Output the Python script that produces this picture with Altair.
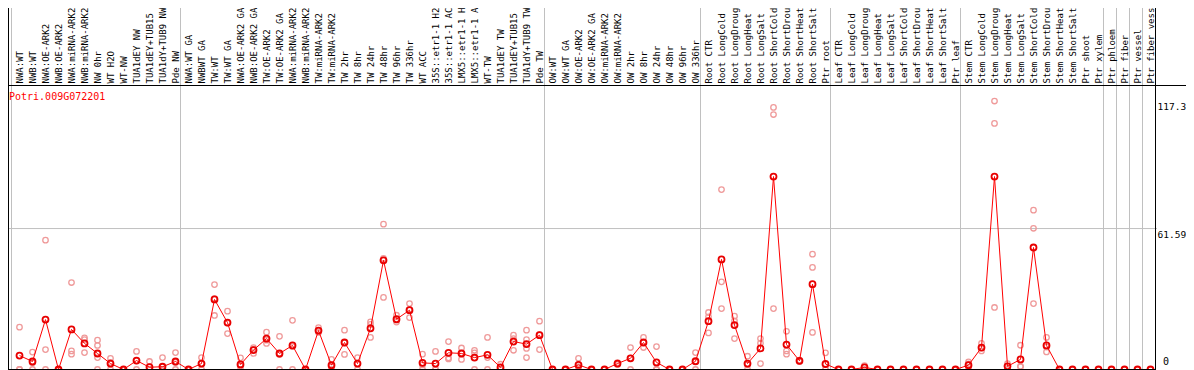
import altair as alt
import pandas as pd

TITLE = "Potri.009G072201"

CATEGORIES = [
    "NWA:WT", "NWB:WT", "NWA:OE-ARK2", "NWB:OE-ARK2", "NWA:miRNA-ARK2", "NWB:miRNA-ARK2",
    "NW 0hr", "WT H2O", "WT-NW", "TUA1dEY NW", "TUA1dEY+TUB15 NW", "TUA1dY+TUB9 NW", "Pde NW",
    "NWA:WT GA", "NWBWT GA", "TW:WT", "TW:WT GA", "NWA:OE-ARK2 GA", "NWB:OE-ARK2 GA",
    "TW:OE-ARK2", "TW:OE-ARK2 GA", "NWA:miRNA-ARK2", "NWB:miRNA-ARK2", "TW:miRNA-ARK2",
    "TW:miRNA-ARK2", "TW 2hr", "TW 8hr", "TW 24hr", "TW 48hr", "TW 96hr", "TW 336hr",
    "WT ACC", "35S::etr1-1 H2O", "35S::etr1-1 ACC", "LMX5::etr1-1 H2O", "LMX5::etr1-1 ACC",
    "WT-TW", "TUA1dEY TW", "TUA1dEY+TUB15 TW", "TUA1dY+TUB9 TW", "Pde TW",
    "OW:WT", "OW:WT GA", "OW:OE-ARK2", "OW:OE-ARK2 GA", "OW:miRNA-ARK2", "OW:miRNA-ARK2",
    "OW 2hr", "OW 8hr", "OW 24hr", "OW 48hr", "OW 96hr", "OW 336hr",
    "Root CTR", "Root LongCold", "Root LongDrought", "Root LongHeat", "Root LongSalt",
    "Root ShortCold", "Root ShortDrought", "Root ShortHeat", "Root ShortSalt", "Ptr root",
    "Leaf CTR", "Leaf LongCold", "Leaf LongDrought", "Leaf LongHeat", "Leaf LongSalt",
    "Leaf ShortCold", "Leaf ShortDrought", "Leaf ShortHeat", "Leaf ShortSalt", "Ptr leaf",
    "Stem CTR", "Stem LongCold", "Stem LongDrought", "Stem LongHeat", "Stem LongSalt",
    "Stem ShortCold", "Stem ShortDrought", "Stem ShortHeat", "Stem ShortSalt", "Ptr shoot",
    "Ptr xylem", "Ptr phloem", "Ptr fiber", "Ptr vessel", "Ptr fiber vessel",
]

MEANS = [
    6.1, 3.5, 21.8, 0.0, 17.5, 11.4, 7.0, 2.6, 0.0, 3.9, 1.0, 1.2, 3.5,
    0.0, 2.6, 30.6, 20.5, 2.2, 8.5, 13.5, 7.0, 10.5, 0.0, 17.0, 1.9, 11.8, 2.6,
    18.0, 47.7, 22.0, 25.9, 2.9, 2.6, 7.3, 7.0, 5.2, 6.4, 0.9, 12.2, 11.1, 15.0,
    0.0, 0.0, 2.0, 0.0, 0.0, 2.6, 4.9, 11.8, 3.1, 0.0, 0.0, 3.6,
    21.1, 48.1, 19.4, 2.6, 9.2, 84.3, 10.9, 3.8, 37.3, 2.4,
    0.0, 0.0, 0.9, 0.0, 0.0, 0.0, 0.0, 0.0, 0.0, 0.0,
    1.9, 9.6, 84.3, 1.4, 4.4, 53.3, 10.5, 0.0, 0.0, 0.0, 0.0,
    0.0, 0.0, 0.0, 0.0,
]

REP_A = [
    18.5, 7.6, 56.5, 0.0, 38.0, 13.8, 12.8, 4.9, 0.0, 7.9, 3.5, 5.2, 7.4,
    0.0, 5.2, 37.1, 25.5, 5.1, 9.6, 16.3, 14.5, 21.5, 0.0, 18.3, 4.4, 17.2, 5.2,
    20.8, 63.5, 23.7, 28.8, 6.7, 7.9, 12.2, 9.4, 8.4, 14.0, 2.3, 15.0, 17.2, 21.1,
    0.0, 0.0, 4.9, 0.0, 0.0, 3.0, 9.6, 14.0, 10.0, 0.0, 0.0, 7.4,
    24.9, 78.6, 23.3, 5.8, 13.5, 114.5, 16.7, 4.1, 50.4, 7.3,
    0.0, 0.0, 1.7, 0.0, 0.0, 0.0, 0.0, 0.0, 0.0, 0.0,
    3.3, 11.4, 117.3, 2.6, 10.6, 69.6, 14.0, 0.0, 0.0, 0.0, 0.0,
    0.0, 0.0, 0.0, 0.0,
]

REP_B = [
    0.0, 2.9, 8.7, 0.0, 8.1, 13.1, 10.5, 3.1, 0.0, 3.8, 0.0, 0.0, 3.1,
    0.0, 2.6, 31.0, 20.3, 1.5, 8.9, 12.8, 6.5, 10.0, 0.0, 16.5, 1.2, 11.6, 2.6,
    19.7, 48.5, 21.5, 26.2, 2.0, 0.0, 5.1, 7.2, 7.3, 5.2, 0.5, 13.5, 13.1, 15.2,
    0.0, 0.0, 1.2, 0.0, 0.0, 2.6, 5.0, 11.8, 0.0, 0.0, 0.0, 3.4,
    23.0, 38.3, 21.2, 2.0, 11.5, 111.4, 8.1, 3.8, 44.6, 0.0,
    0.0, 0.0, 1.0, 0.0, 0.0, 0.0, 0.0, 0.0, 0.0, 0.0,
    2.4, 9.4, 107.5, 1.5, 1.4, 61.7, 9.8, 0.0, 0.0, 0.0, 0.0,
    0.0, 0.0, 0.0, 0.0,
]

REP_C = [
    0.0, 0.0, 0.0, 0.0, 6.7, 7.4, 5.2, 0.0, 0.0, 0.0, 0.0, 0.0, 0.0,
    0.0, 0.0, 23.6, 15.7, 0.0, 7.0, 11.4, 0.0, 0.0, 0.0, 16.2, 0.0, 6.6, 0.0,
    14.0, 31.5, 20.7, 22.7, 0.0, 0.0, 4.6, 4.4, 0.0, 0.0, 0.0, 8.4, 9.2, 8.7,
    0.0, 0.0, 0.0, 0.0, 0.0, 2.2, 0.0, 9.6, 0.0, 0.0, 0.0, 0.0,
    16.0, 26.6, 13.5, 0.0, 2.6, 26.6, 6.7, 3.5, 16.2, 0.0,
    0.0, 0.0, 0.0, 0.0, 0.0, 0.0, 0.0, 0.0, 0.0, 0.0,
    0.0, 8.1, 27.1, 0.0, 1.2, 28.8, 7.7, 0.0, 0.0, 0.0, 0.0,
    0.0, 0.0, 0.0, 0.0,
]

# fourth replicate, only where one was seen (category number -> value)
REP_D = {7: 0.0, 40: 5.2}

# group boundaries: a grey line follows these category numbers
GROUP_ENDS = [0, 13, 41, 53, 63, 73, 84, 85, 86, 87]
Y_TICKS = [0, 61.59, 117.3]
Y_TICK_LABELS = ["0", "61.59", "117.3"]
Y_MAX = 124.3

FONT = "DejaVu Sans Mono"
W, H, RIGHT = 1148, 362, 30
HEADER = 77
STEP = 13.0
FIRST = 11.5
X_MIN = 1 - FIRST / STEP
X_MAX = X_MIN + W / STEP
GAP = 5 / STEP

idx = list(range(1, len(CATEGORIES) + 1))
mean_df = pd.DataFrame({"idx": idx, "category": CATEGORIES, "mean": MEANS})

rows = []
for rep in (REP_A, REP_B, REP_C):
    for i, v in zip(idx, rep):
        rows.append({"idx": i, "value": v})
for i, v in REP_D.items():
    rows.append({"idx": i, "value": v})
rep_df = pd.DataFrame(rows)

grid_df = pd.DataFrame({"pos": [g + GAP for g in GROUP_ENDS]})
border_df = pd.DataFrame({"pos": [len(CATEGORIES) + GAP]})
tick_df = pd.DataFrame({"v": Y_TICKS, "label": Y_TICK_LABELS})

xs = alt.Scale(domain=[X_MIN, X_MAX], nice=False, zero=False)
ys = alt.Scale(domain=[0, Y_MAX], range=[H - 0.5, HEADER], nice=False, zero=False)

vgrid = alt.Chart(grid_df).mark_rule(color="#c0c0c0", strokeWidth=1).encode(
    x=alt.X("pos:Q", scale=xs, axis=None),
    y=alt.value(0), y2=alt.value(H),
)

hgrid = alt.Chart(tick_df).transform_filter(
    (alt.datum.v > 0) & (alt.datum.v < 100)
).mark_rule(color="#c0c0c0", strokeWidth=1).encode(
    y=alt.Y("v:Q", scale=ys, axis=None),
    x=alt.value(0), x2=alt.value(W + 1),
)

pale = alt.Chart(rep_df).mark_point(
    shape="circle", filled=False, color="#ef9a9a", size=30, strokeWidth=1.3, opacity=1
).encode(
    x=alt.X("idx:Q", scale=xs, axis=None),
    y=alt.Y("value:Q", scale=ys, axis=None),
)

line = alt.Chart(mean_df).mark_line(color="#ff0000", strokeWidth=1).encode(
    x=alt.X("idx:Q", scale=xs, axis=None),
    y=alt.Y("mean:Q", scale=ys, axis=None),
)

dots = alt.Chart(mean_df).mark_point(
    shape="circle", filled=False, color="#e80000", size=36, strokeWidth=1.8, opacity=1
).encode(
    x=alt.X("idx:Q", scale=xs, axis=None),
    y=alt.Y("mean:Q", scale=ys, axis=None),
)

header_line = alt.Chart(pd.DataFrame({"v": [Y_MAX]})).mark_rule(
    color="black", strokeWidth=1, yOffset=0.5
).encode(
    y=alt.Y("v:Q", scale=ys, axis=None),
    x=alt.value(0), x2=alt.value(W + RIGHT),
)

bottom_line = alt.Chart(pd.DataFrame({"v": [0]})).mark_rule(
    color="black", strokeWidth=1
).encode(
    y=alt.Y("v:Q", scale=ys, axis=None),
    x=alt.value(0), x2=alt.value(W),
)

left_line = alt.Chart(pd.DataFrame({"v": [0]})).mark_rule(
    color="black", strokeWidth=1
).encode(x=alt.value(0.5), y=alt.value(0), y2=alt.value(H))

right_line = alt.Chart(border_df).mark_rule(color="black", strokeWidth=1).encode(
    x=alt.X("pos:Q", scale=xs, axis=None),
    y=alt.value(0), y2=alt.value(H),
)

tick_top = alt.Chart(tick_df).transform_filter(alt.datum.v > 0).mark_text(
    align="left", baseline="top", font=FONT, fontSize=9.5, color="black", dy=1
).encode(
    y=alt.Y("v:Q", scale=ys, axis=None),
    x=alt.value(W + 1.5),
    text="label:N",
)

tick_zero = alt.Chart(tick_df).transform_filter(alt.datum.v == 0).mark_text(
    align="left", baseline="bottom", font=FONT, fontSize=10, color="black", dy=-3
).encode(
    y=alt.Y("v:Q", scale=ys, axis=None),
    x=alt.value(W + 7),
    text="label:N",
)

labels = alt.Chart(mean_df).mark_text(
    angle=270, align="left", baseline="middle", font=FONT, fontSize=9, color="black"
).encode(
    x=alt.X("idx:Q", scale=xs, axis=None),
    y=alt.value(HEADER - 1.5),
    text="category:N",
)

title = alt.Chart(pd.DataFrame({"t": [TITLE]})).mark_text(
    align="left", baseline="top", font=FONT, fontSize=10, color="#ff0000"
).encode(x=alt.value(1), y=alt.value(HEADER + 7), text="t:N")

chart = alt.layer(
    vgrid, hgrid, pale, line, dots, header_line, bottom_line, left_line,
    right_line, tick_top, tick_zero, labels, title,
).properties(
    width=W, height=H,
    autosize=alt.AutoSizeParams(type="none"),
    padding={"left": 0, "right": RIGHT, "top": 0, "bottom": 0},
    background="white",
).configure_view(stroke=None)

chart.save("out.html", embed_options={"renderer": "svg", "actions": False})
